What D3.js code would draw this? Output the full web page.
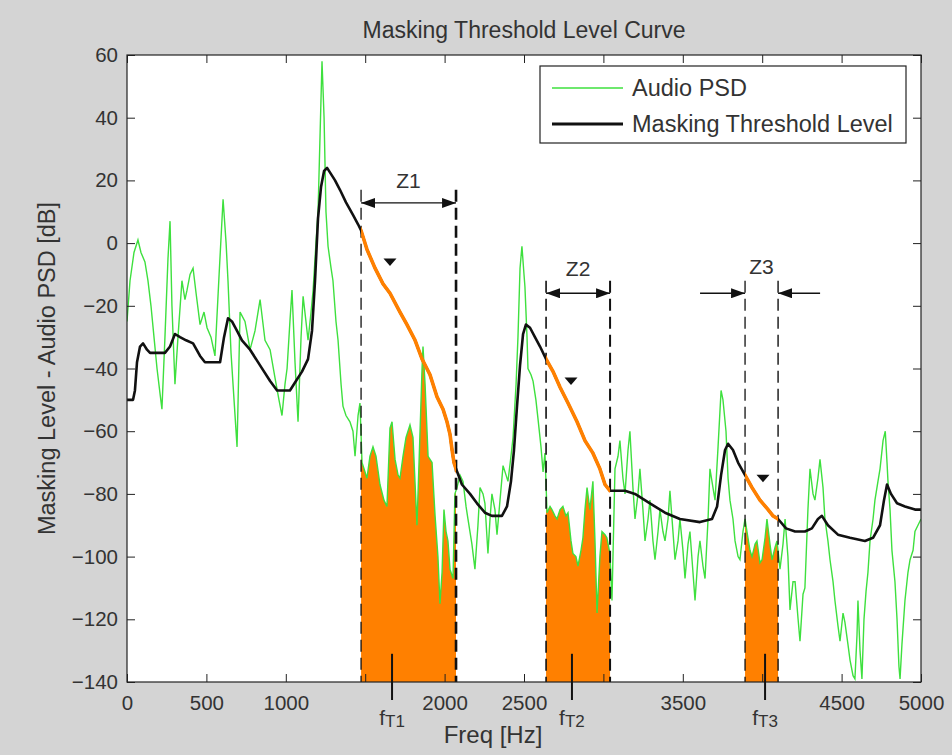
<!DOCTYPE html>
<html><head><meta charset="utf-8">
<script src="https://cdn.jsdelivr.net/npm/d3@7"></script>
<style>
body{margin:0;background:#d4d4d4;}
svg{display:block;}
text{font-family:"Liberation Sans",Arial,sans-serif;fill:#333;}
</style>
</head><body>
<svg id="c" width="952" height="755"></svg>
<script>
// ---------- DATA ----------
const psdFreq = [0,19,44,69,88,113,132,151,170,189,208,220,239,258,271,283,302,321,346,365,378,397,416,435,460,485,504,529,554,580,605,624,636,655,674,693,712,743,775,806,838,869,901,932,957,976,995,1008,1026,1039,1058,1077,1096,1109,1127,1140,1159,1172,1190,1203,1216,1228,1241,1253,1266,1285,1297,1316,1329,1348,1360,1379,1404,1423,1436,1455,1467,1480,1499,1511,1530,1549,1568,1593,1618,1637,1656,1669,1688,1707,1719,1738,1757,1782,1801,1826,1839,1858,1864,1877,1896,1921,1940,1958,1971,1984,1996,2009,2021,2034,2053,2065,2078,2097,2116,2135,2147,2172,2191,2210,2223,2242,2254,2273,2286,2298,2317,2330,2349,2368,2387,2399,2418,2431,2450,2462,2475,2487,2500,2506,2519,2525,2544,2557,2575,2588,2607,2620,2632,2645,2664,2676,2695,2708,2727,2745,2764,2777,2796,2808,2827,2840,2859,2871,2884,2897,2915,2934,2947,2960,2978,2991,3010,3022,3041,3054,3073,3092,3104,3123,3136,3155,3167,3186,3199,3218,3230,3249,3262,3281,3293,3312,3325,3344,3356,3375,3388,3407,3419,3438,3451,3470,3482,3501,3514,3533,3545,3564,3577,3596,3608,3627,3640,3659,3671,3690,3703,3722,3741,3753,3772,3785,3797,3816,3829,3848,3860,3879,3892,3904,3923,3936,3955,3967,3986,3999,4018,4030,4049,4062,4081,4093,4112,4131,4144,4162,4175,4194,4207,4226,4238,4257,4269,4288,4301,4320,4332,4351,4364,4383,4395,4414,4427,4446,4458,4477,4490,4509,4521,4540,4553,4572,4584,4597,4603,4616,4628,4641,4654,4666,4679,4698,4710,4729,4742,4761,4775,4786,4792,4805,4817,4836,4849,4861,4868,4880,4899,4918,4931,4950,4962,4981,5000];
const psdDb = [-25,-12,-3,1,-3,-6,-12,-20,-30,-40,-48,-53,-30,-5,7,-20,-45,-30,-12,-18,-15,-10,-8,-16,-26,-22,-27,-30,-36,-10,14,0,-12,-35,-50,-65,-22,-25,-34,-28,-18,-31,-34,-43,-50,-55,-45,-40,-25,-15,-38,-57,-30,-17,-25,-31,-22,-15,0,10,35,58,40,10,-1,-8,-12,-25,-31,-45,-52,-55,-57,-60,-68,-55,-51,-70,-73,-75,-68,-65,-68,-77,-82,-84,-59,-57,-69,-74,-75,-68,-62,-58,-62,-90,-70,-40,-33,-45,-68,-70,-87,-100,-115,-105,-85,-92,-95,-104,-107,-80,-78,-74,-76,-84,-88,-96,-104,-90,-78,-80,-83,-99,-88,-80,-85,-93,-82,-71,-74,-76,-68,-62,-45,-30,-8,-1,-10,-14,-30,-40,-42,-44,-50,-56,-65,-73,-67,-86,-84,-85,-87,-88,-85,-84,-87,-86,-95,-99,-100,-103,-98,-94,-85,-78,-85,-76,-95,-118,-100,-92,-93,-94,-99,-114,-72,-68,-63,-75,-80,-66,-60,-78,-88,-80,-72,-85,-95,-88,-82,-95,-101,-92,-85,-92,-95,-88,-79,-92,-101,-95,-88,-98,-107,-96,-92,-105,-114,-100,-95,-103,-107,-88,-72,-78,-82,-65,-47,-50,-60,-75,-82,-88,-95,-100,-101,-92,-88,-92,-98,-100,-96,-95,-102,-101,-94,-88,-96,-101,-97,-95,-104,-96,-88,-100,-117,-108,-108,-120,-127,-112,-110,-85,-72,-80,-82,-75,-69,-78,-88,-95,-101,-108,-114,-122,-127,-118,-121,-128,-133,-138,-139,-125,-114,-130,-139,-120,-111,-105,-95,-88,-82,-76,-72,-63,-60,-70,-76,-85,-98,-108,-120,-135,-139,-128,-114,-105,-101,-98,-92,-90,-88];

const thrFreq = [0,38,50,63,82,101,126,145,239,271,302,334,372,416,460,491,586,611,636,661,693,724,775,838,901,945,1026,1064,1102,1140,1165,1184,1203,1222,1241,1260,1285,1310,1341,1379,1423,1455,1474,1511,1562,1612,1656,1719,1763,1814,1858,1908,1952,1990,2015,2034,2047,2059,2072,2109,2160,2204,2254,2298,2361,2393,2418,2437,2456,2475,2494,2512,2538,2569,2601,2639,2683,2727,2777,2834,2884,2934,2978,3010,3041,3136,3199,3293,3388,3482,3608,3684,3716,3741,3766,3785,3816,3848,3892,3936,3986,4037,4068,4100,4150,4207,4269,4313,4351,4376,4414,4477,4553,4647,4698,4742,4767,4786,4811,4849,4899,4962,5000];
const thrDb = [-50,-50,-47,-38,-33,-32,-34,-35,-35,-33,-29,-30,-31,-32,-36,-38,-38,-30,-24,-25,-28,-31,-34,-39,-44,-47,-47,-44,-41,-37,-28,-12,8,18,23,24,22,20,17,13,9,6,4,-2,-8,-13,-16,-22,-26,-31,-37,-42,-49,-53,-57,-61,-66,-70,-72,-77,-80,-83,-86,-87,-87,-84,-76,-66,-52,-39,-29,-26,-27,-30,-33,-37,-41,-46,-51,-57,-63,-67,-72,-77,-79,-79,-80,-83,-86,-88,-89,-88,-84,-74,-66,-64,-66,-70,-74,-78,-82,-85,-87,-88,-91,-92,-92,-91,-88,-87,-90,-93,-94,-95,-94,-90,-82,-77,-80,-83,-84,-85,-85];

const zoneNames = ["Z1","Z2","Z3"];
const zoneLo = [1474,2639,3892];
const zoneHi = [2072,3042,4100];
const fTFreq = [1669,2802,4018];
const fTSub = ["T1","T2","T3"];
const markerFreq = [1656,2796,4005];
const markerDb = [-6,-44,-75];

const xTicks = [0,500,1000,1500,2000,2500,3000,3500,4000,4500,5000];
const xTickLabels = [0,500,1000,2000,2500,3500,4500,5000];
const yTicks = [-140,-120,-100,-80,-60,-40,-20,0,20,40,60];

const titleText = "Masking Threshold Level Curve";
const xLabel = "Freq [Hz]";
const yLabel = "Masking Level - Audio PSD [dB]";
const legendLabels = ["Audio PSD","Masking Threshold Level"];

// ---------- LAYOUT ----------
const L = 127, R = 921, T = 55, B = 682;
const GREEN = "#3ee03e", ORANGE = "#ff8000";
const svg = d3.select("#c");
const x = d3.scaleLinear().domain([0,5000]).range([L,R]);
const y = d3.scaleLinear().domain([-140,60]).range([B,T]);

svg.append("rect").attr("width",952).attr("height",755).attr("fill","#d4d4d4");
svg.append("rect").attr("x",L).attr("y",T).attr("width",R-L).attr("height",B-T).attr("fill","#fff");

const defs = svg.append("defs");
defs.append("clipPath").attr("id","plotClip").append("rect")
  .attr("x",L).attr("y",T).attr("width",R-L).attr("height",B-T);
const zc = defs.append("clipPath").attr("id","zoneClip");
zoneLo.forEach((lo,i)=>{
  zc.append("rect").attr("x",x(lo)).attr("y",T).attr("width",x(zoneHi[i])-x(lo)).attr("height",B-T);
});
defs.append("marker").attr("id","arr").attr("markerUnits","userSpaceOnUse")
  .attr("markerWidth",15).attr("markerHeight",10).attr("refX",14).attr("refY",5)
  .attr("orient","auto-start-reverse")
  .append("path").attr("d","M0,0 L14,5 L0,10 Z").attr("fill","#111");

const psd = psdFreq.map((f,i)=>({f, v: psdDb[i]}));
const thr = thrFreq.map((f,i)=>({f, v: thrDb[i]}));

const g = svg.append("g").attr("clip-path","url(#plotClip)");

// orange fill under PSD inside zones
g.append("path").datum(psd)
  .attr("clip-path","url(#zoneClip)")
  .attr("fill",ORANGE)
  .attr("d", d3.area().x(d=>x(d.f)).y0(y(-140)).y1(d=>y(d.v)));

// green PSD
g.append("path").datum(psd)
  .attr("fill","none").attr("stroke",GREEN).attr("stroke-width",1.4)
  .attr("d", d3.line().x(d=>x(d.f)).y(d=>y(d.v)));

// dashed zone lines
const zoneTop = [17,-12,-12];
const zoneW = [[1.3,2.6],[1.6,2.0],[1.3,1.4]];
zoneLo.forEach((lo,i)=>{
  [lo, zoneHi[i]].forEach((f,j)=>{
    g.append("line").attr("x1",x(f)).attr("x2",x(f))
      .attr("y1",y(zoneTop[i])).attr("y2",B)
      .attr("stroke","#111").attr("stroke-width",zoneW[i][j])
      .attr("stroke-dasharray","12,6");
  });
});

// threshold
const thrLine = d3.line().x(d=>x(d.f)).y(d=>y(d.v));
g.append("path").datum(thr).attr("fill","none").attr("stroke","#111")
  .attr("stroke-width",2.6).attr("stroke-linejoin","round").attr("d",thrLine);
g.append("path").datum(thr).attr("clip-path","url(#zoneClip)").attr("fill","none")
  .attr("stroke",ORANGE).attr("stroke-width",3.6).attr("d",thrLine);

// markers
markerFreq.forEach((f,i)=>{
  g.append("path").attr("transform",`translate(${x(f)},${y(markerDb[i])})`)
    .attr("d","M-6.5,-3.5 L6.5,-3.5 L0,4 Z").attr("fill","#111");
});

// zone arrows and labels
const arrowDb = [12.8,-16,-16];
const labelDb = [17.5,-10.5,-10];
zoneLo.forEach((lo,i)=>{
  const hi = zoneHi[i], ay = y(arrowDb[i]);
  if (i < 2) {
    svg.append("line").attr("x1",x(lo)).attr("x2",x(hi)).attr("y1",ay).attr("y2",ay)
      .attr("stroke","#111").attr("stroke-width",1.3)
      .attr("marker-start","url(#arr)").attr("marker-end","url(#arr)");
  } else {
    svg.append("line").attr("x1",x(lo)-45).attr("x2",x(lo)).attr("y1",ay).attr("y2",ay)
      .attr("stroke","#111").attr("stroke-width",1.3).attr("marker-end","url(#arr)");
    svg.append("line").attr("x1",x(hi)+42).attr("x2",x(hi)).attr("y1",ay).attr("y2",ay)
      .attr("stroke","#111").attr("stroke-width",1.3).attr("marker-end","url(#arr)");
  }
  svg.append("text").attr("x",(x(lo)+x(hi))/2).attr("y",y(labelDb[i]))
    .attr("text-anchor","middle").attr("font-size",21).attr("fill","#444").text(zoneNames[i]);
});

// axes (inward ticks on all sides)
const fmt = d => xTickLabels.includes(d) ? String(d) : "";
svg.append("g").attr("transform",`translate(0,${B})`)
  .call(d3.axisBottom(x).tickValues(xTicks).tickFormat(fmt).tickSizeInner(-8).tickSizeOuter(0).tickPadding(13));
svg.append("g").attr("transform",`translate(0,${T})`)
  .call(d3.axisTop(x).tickValues(xTicks).tickFormat("").tickSizeInner(-8).tickSizeOuter(0));
svg.append("g").attr("transform",`translate(${L},0)`)
  .call(d3.axisLeft(y).tickValues(yTicks).tickSizeInner(-8).tickSizeOuter(0).tickPadding(9));
svg.append("g").attr("transform",`translate(${R},0)`)
  .call(d3.axisRight(y).tickValues(yTicks).tickFormat("").tickSizeInner(-8).tickSizeOuter(0));
svg.selectAll(".domain").remove();
svg.selectAll(".tick line").attr("stroke","#222");
svg.selectAll(".tick text").attr("font-size",20.5).attr("fill","#333")
  .attr("font-family","'Liberation Sans',Arial,sans-serif");

svg.append("rect").attr("x",L).attr("y",T).attr("width",R-L).attr("height",B-T)
  .attr("fill","none").attr("stroke","#222").attr("stroke-width",1.2);

// fT ticks and labels
fTFreq.forEach((f,i)=>{
  svg.append("line").attr("x1",x(f)).attr("x2",x(f)).attr("y1",y(-131)).attr("y2",B+18)
    .attr("stroke","#111").attr("stroke-width",2);
  const t = svg.append("text").attr("x",x(f)).attr("y",B+43).attr("text-anchor","middle")
    .attr("font-size",21).attr("fill","#333");
  t.append("tspan").text("f");
  t.append("tspan").attr("font-size",17).attr("dy",2).text(fTSub[i]);
});

// titles
svg.append("text").attr("x",(L+R)/2).attr("y",38).attr("text-anchor","middle")
  .attr("font-size",23).attr("fill","#333").text(titleText);
svg.append("text").attr("x",493).attr("y",743).attr("text-anchor","middle")
  .attr("font-size",24).attr("fill","#333").text(xLabel);
svg.append("text").attr("transform",`translate(55,${(T+B)/2}) rotate(-90)`)
  .attr("text-anchor","middle").attr("font-size",23.5).attr("fill","#333").text(yLabel);

// legend
const lg = svg.append("g");
lg.append("rect").attr("x",540).attr("y",66).attr("width",366).attr("height",77)
  .attr("fill","#fff").attr("stroke","#222").attr("stroke-width",1.2);
[[GREEN,1.6],["#111",2.8]].forEach((c,i)=>{
  const yy = 88 + i*36;
  lg.append("line").attr("x1",552).attr("x2",623).attr("y1",yy).attr("y2",yy)
    .attr("stroke",c[0]).attr("stroke-width",c[1]);
  lg.append("text").attr("x",632).attr("y",yy+8).attr("font-size",23.5).attr("fill","#333")
    .text(legendLabels[i]);
});
</script>
</body></html>
